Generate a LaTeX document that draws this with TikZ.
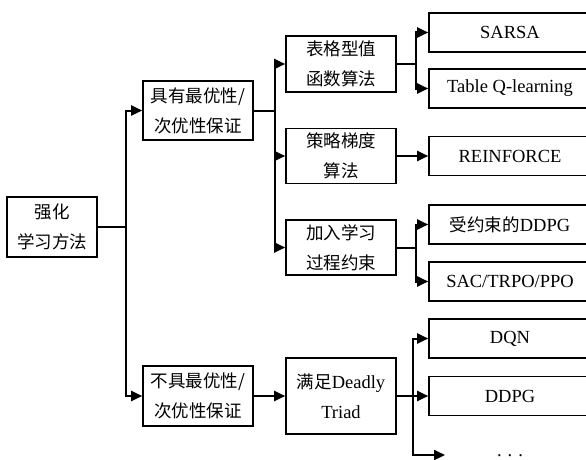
\documentclass[tikz,border=0pt]{standalone}
\usepackage{fontspec}
\setmainfont{Liberation Serif}
\newfontfamily\cjk{Noto Sans CJK SC}
\usetikzlibrary{arrows.meta,calc}
\tikzset{
  box/.style={draw,line width=1.6pt,inner sep=0pt,align=center,
    font=\fontsize{18.5}{30}\selectfont},
  midbox/.style={box,minimum width=110pt},
  leafbox/.style={box,minimum width=162pt,minimum height=39pt},
  conn/.style={line width=2pt},
  arr/.style={conn,-{Triangle[length=11pt,width=10pt]}},
}
\newcommand{\zh}[1]{{\cjk\fontsize{17.5}{30}\selectfont #1}}
\begin{document}
\begin{tikzpicture}[x=1pt,y=-1pt]
\useasboundingbox (0,0) rectangle (586,460);
\clip (0,0) rectangle (586,460);
% nodes
\node[box,minimum width=90pt,minimum height=60pt] (root) at (52,227) {\zh{强化}\\\zh{学习方法}};
\node[midbox,minimum height=59pt] (a1) at (198,110.5) {\zh{具有最优性/}\\\zh{次优性保证}};
\node[midbox,minimum height=60pt] (a2) at (198,396) {\zh{不具最优性/}\\\zh{次优性保证}};
\node[midbox,minimum height=56pt] (b1) at (341,64) {\zh{表格型值}\\\zh{函数算法}};
\node[midbox,minimum height=55pt] (b2) at (341,156) {\zh{策略梯度}\\\zh{算法}};
\node[midbox,minimum height=55pt] (b3) at (341,247.5) {\zh{加入学习}\\\zh{过程约束}};
\node[midbox,minimum height=76pt] (b4) at (341,396) {\zh{满足}Deadly\\Triad};
\node[leafbox] (l1) at (510,32.5) {SARSA};
\node[leafbox] (l2) at (510,88.5) {Table Q-learning};
\node[leafbox] (l3) at (510,156) {REINFORCE};
\node[leafbox] (l4) at (510,224.5) {\zh{受约束的}DDPG};
\node[leafbox] (l5) at (510,281.5) {SAC/TRPO/PPO};
\node[leafbox] (l6) at (510,338.5) {DQN};
\node[leafbox] (l7) at (510,396) {DDPG};
\node[font=\fontsize{18.5}{20}\selectfont] (dots) at (510,456) {.\hspace{6pt}.\hspace{6pt}.};
\coordinate (dend) at (445,455);
% connectors
\coordinate (t0) at ($(root.east)+(28,0)$);
\draw[conn] (root.east) -- (t0);
\draw[arr] (t0) |- (a1.west);
\draw[arr] (t0) |- (a2.west);
\coordinate (t1) at ($(a1.east)+(21,0)$);
\draw[conn] (a1.east) -- (t1);
\draw[arr] (t1) |- (b1.west);
\draw[arr] (t1) |- (b2.west);
\draw[arr] (t1) |- (b3.west);
\coordinate (t2) at ($(b1.east)+(19,0)$);
\draw[conn] (b1.east) -- (t2);
\draw[arr] (t2) |- (l1.west);
\draw[arr] (t2) |- (l2.west);
\draw[arr] (b2.east) -- (l3.west);
\coordinate (t3) at ($(b3.east)+(19,0)$);
\draw[conn] (b3.east) -- (t3);
\draw[arr] (t3) |- (l4.west);
\draw[arr] (t3) |- (l5.west);
\draw[arr] (a2.east) -- (b4.west);
\coordinate (t4) at ($(b4.east)+(16,0)$);
\draw[arr] (b4.east) -- (l7.west);
\draw[arr] (t4) |- (l6.west);
\draw[arr] (t4) |- (dend);
\end{tikzpicture}
\end{document}
